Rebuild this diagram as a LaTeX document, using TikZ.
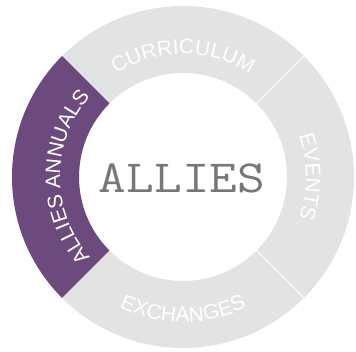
\documentclass[tikz,border=0pt]{standalone}
\usepackage{fontspec}
\newfontfamily\ringfam{Liberation Sans}
\newcommand\ringfont{\ringfam\fontsize{21}{21}\selectfont}
\usetikzlibrary{decorations.text}
\definecolor{ringgrey}{HTML}{E3E3E3}
\definecolor{ringpurple}{HTML}{6D4A7D}
\definecolor{titlegrey}{HTML}{777777}
\tikzset{
  ringlabel/.style={decorate,decoration={text along path,text align=center,text color=white,text={|\ringfont|#1}}},
  divider/.style={draw=white,line width=1pt}
}
\begin{document}
\begin{tikzpicture}[x=1pt,y=1pt]
\useasboundingbox (0,0) rectangle (356,352);
\coordinate (c) at (183,175);
% ring
\fill[ringgrey,even odd rule] (c) circle[radius=171] (c) circle[radius=104];
% purple sector
\fill[ringpurple] ([shift={(135:171)}]c) arc[start angle=135,end angle=225,radius=171]
  -- ([shift={(225:104)}]c) arc[start angle=225,end angle=135,radius=104] -- cycle;
% dividers
\coordinate (d1i) at ([shift={(45:104)}]c);
\coordinate (d1o) at ([shift={(45:171)}]c);
\coordinate (d2i) at ([shift={(-45:104)}]c);
\coordinate (d2o) at ([shift={(-45:171)}]c);
\draw[divider] (d1i) -- (d1o);
\draw[divider] (d2i) -- (d2o);
% curved labels
\path[ringlabel={CURRICULUM}] ([shift={(150:123)}]c) arc[start angle=150,end angle=30,radius=123];
\path[ringlabel={EVENTS}] ([shift={(40:123)}]c) arc[start angle=40,end angle=-40,radius=123];
\path[ringlabel={EXCHANGES}] ([shift={(230:145)}]c) arc[start angle=230,end angle=310,radius=145];
\path[ringlabel={ALLIES ANNUALS}] ([shift={(222:123)}]c) arc[start angle=222,end angle=138,radius=123];
% centre title
\node[font=\ttfamily\fontsize{46}{46}\selectfont,text=titlegrey,inner sep=0pt,xscale=1.17,transform shape] (title) at (182,174) {ALLIES};
\end{tikzpicture}
\end{document}
